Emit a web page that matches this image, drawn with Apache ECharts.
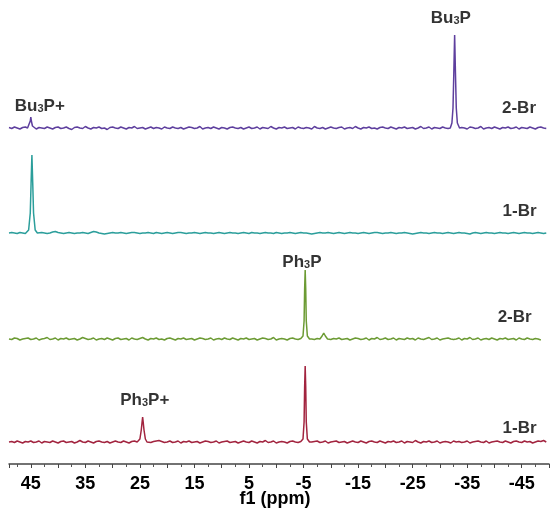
<!DOCTYPE html>
<html>
<head>
<meta charset="utf-8">
<script src="https://cdn.jsdelivr.net/npm/echarts@6/dist/echarts.min.js"></script>
<style>
html,body{margin:0;padding:0;background:#fff;}
#chart{width:551px;height:508px;}
</style>
</head>
<body>
<div id="chart"></div>
<script>
// Baseline noise sampled every 0.5 ppm, starting at 49 ppm going down
const noiseStart = 49;
const noiseStep = 0.5;
const noisePurple = [
 0.5,-0.5,1,0,-1,0.5,1,-0.5,0,1.5,-1,0.5,0,-0.5,1,0,-1,0.5,1,-0.5,
 0,1,-0.5,-1.5,0.5,1,0,-0.5,1.5,0,-1,0.5,0,1,-0.5,0,-1.5,0.5,1,0,
 -0.5,1,0,-1,0.5,0,1.5,-0.5,0,0.5,-1,0,1,-0.5,0.5,0,-1,1,0,-0.5,
 1,0,-0.5,0.5,-1,0,1,0.5,-0.5,0,1.5,-1,0,0.5,-0.5,1,0,-1,0.5,0,
 -1,0.5,1,0,-0.5,0.5,-1,0,1,-0.5,0,1,-1,0.5,0,-0.5,1.5,0,-1,0.5,
 0,1,-0.5,0,0.5,-1,1,0,-0.5,0.5,0,-1,1.5,0,-0.5,0.5,-1,0,1,0,
 -0.5,0.5,1,-1,0,0.5,-0.5,1.5,0,-1,0.5,0,1,-0.5,0,-1,0.5,1,0,-0.5,
 1,0,-1,0.5,0,1,-0.5,0,0.5,-1,0,1.5,-0.5,0,1,-1,0.5,0,-0.5,1,
 0,-0.5,0.5,0,1,-1,0.5,0,-1,1,0.5,-0.5,0,1.5,-1,0,0.5,-0.5,1,0,
 -1,0.5,0,1,-0.5,0,1,-1,0.5,0,-0.5,1,0,-1,0.5,1,0,-0.5
];
const noiseTeal = [
 0,0.5,0,-0.5,0.5,0,-0.5,0,0,0,0,0,0.5,0,-0.5,0,1,1.5,0.5,0,
 -0.5,0,0.5,0,-0.5,0,0,0.5,0,-0.5,0.5,1.5,1,0,-0.5,-1,-0.5,0,0.5,0,
 0,0.5,0,-0.5,0,0.5,0.5,0,-0.5,0,0,0.5,0,-0.5,0.5,0,-0.5,0,0.5,0,
 -0.5,0,0.5,0.5,0,-0.5,0,0,0.5,0,-0.5,0,0.5,0,0,-0.5,0,0.5,0,-0.5,
 0,0.5,0,0,-0.5,0,0.5,0,-0.5,0.5,0,0,-0.5,0,0.5,0,0,-0.5,0.5,0,
 -0.5,0,0,0.5,0,-0.5,0,0.5,0,0,-0.5,-1,-0.5,0,0.5,0,0,0.5,0,-0.5,
 0,0.5,0,-0.5,0,0.5,0,0,-0.5,0,0.5,0,-0.5,0,0.5,0.5,0,-0.5,0,0,
 0.5,0,-0.5,0,0,0.5,0,-0.5,-1,-0.5,0,0.5,0,0,-0.5,0,0.5,0,0,-0.5,
 0,0.5,0,-0.5,0,0.5,0,0,-0.5,-1,0,0.5,0,-0.5,0,0.5,0,0,-0.5,0,
 0.5,0,0,-0.5,0,0.5,0,-0.5,0,0.5,0,0,-0.5,0,0.5,0,-0.5,0
];
const noiseGreen = [
 0,-0.5,1,0.5,-1,0,0.5,1,-0.5,0,1,-1,0,0.5,1.5,-0.5,0,1,-1,0.5,
 0,1,-0.5,0,0.5,-1,0,1.5,0.5,-0.5,0,1,-1,0,0.5,-0.5,1,0,-1,0.5,
 1,-0.5,0,0.5,-1,1,0,-0.5,0.5,1.5,0,-1,0.5,0,1,-0.5,0,-1,0.5,1,
 0,-1,0.5,0,1,-0.5,0,0.5,-1,0,1,0.5,-0.5,0,1,-1,0,0.5,-0.5,1,
 0,-0.5,1,0,-1,0.5,0,1,-0.5,0,0.5,-1,0,1,0.5,-0.5,0,1.5,-1,0,
 0.5,0,-1,0.5,1,0,-0.5,0.5,-1,0,1,0,-0.5,0.5,0,-1,1,0,-0.5,0.5,
 0,1,-0.5,0,0.5,-1,0,1,0.5,-0.5,0,1,-1,0.5,0,1.5,-0.5,0,1,-0.5,
 0,1,-1,0.5,0,-0.5,1,0,0.5,-1,1,0,-0.5,0.5,1.5,-0.5,0,1,-1,0,
 0.5,1,0,-0.5,0,1,-1,0.5,0,1.5,-0.5,0,1,-1,0,0.5,-0.5,1,0,-1,
 0.5,0,1,-0.5,0,0.5,-1,1,0,-0.5,1,0,-0.5,0.5,0,-1
];
const noiseRed = [
 0,0.5,-0.5,1,0,-1,0.5,0,1,-0.5,0,1,-1,0.5,0,-0.5,1,0,-1,0.5,
 1,-0.5,0,0.5,-1,0,1.5,0,-0.5,1,0,-1,0.5,1,0,-0.5,0.5,-1,0,1,
 0,-0.5,1,0,-1,0.5,1,0,0,0,0,0,-0.5,0.5,1,1.5,0.5,-0.5,0,1,
 -0.5,0,1,-1,0.5,0,1,-0.5,0,0.5,-1,0,1,0.5,-0.5,0,1,-1,0,0.5,
 1,-0.5,0,0.5,-1,0,1,0,-0.5,1,0,-1,0.5,0,1.5,-0.5,0,1,-1,0,
 0.5,0,-1,0.5,1,0,-0.5,0.5,0,-1,0,0,0.5,1,-0.5,0,1,-1,0,0.5,
 1,-0.5,0,0.5,-1,0,1,0,-0.5,1,0,-1,0.5,1,0,-0.5,1,0,-1,0.5,
 0,1,-0.5,0,1,-1,0.5,0,-0.5,1.5,0,-1,0.5,0,1,-0.5,0,1,-1,0,
 0.5,0,-1,1,0,0.5,-0.5,0,1,-1,0,0.5,1,0,-0.5,1,-1,0,0.5,1,
 0,-0.5,1,0,-1,0.5,1,0,-0.5,1,0,0.5,-1,0,1,0.5,1.5,0
];

// Peaks: [ppm, height above baseline]
const peaksPurple = [
 [[45.6,0],[45.3,2],[45.1,7],[45.0,11],[44.9,7],[44.7,2],[44.4,0]],
 [[-31.9,0],[-32.2,5],[-32.4,20],[-32.55,55],[-32.7,93],[-32.85,55],[-33.0,20],[-33.2,5],[-33.6,0]]
];
const peaksTeal = [
 [[45.8,0],[45.4,3],[45.1,20],[44.95,50],[44.8,78],[44.65,50],[44.5,20],[44.2,3],[43.8,0]]
];
const peaksGreen = [
 [[-4.6,0],[-4.9,3],[-5.1,18],[-5.2,50],[-5.3,69],[-5.4,50],[-5.5,18],[-5.7,3],[-6.1,0]],
 [[-8.0,0],[-8.4,3],[-8.7,6],[-9.0,3],[-9.4,0]]
];
const peaksRed = [
 [[25.3,0],[25.0,3],[24.75,12],[24.6,20],[24.5,25],[24.4,20],[24.25,12],[24.0,3],[23.7,0]],
 [[-4.6,0],[-4.9,3],[-5.1,20],[-5.2,55],[-5.3,76],[-5.4,55],[-5.5,20],[-5.7,3],[-6.1,0]]
];

// Vertical offsets of each trace (stacking)
const offsets = {purple:336, teal:231, green:125, red:22};

// Annotations: [rich text, ppm, y]
const annotations = [
 ['{n|Bu}{s|3}{n|P}', -32.0, 446],
 ['{n|Bu}{s|3}{n|P+}', 43.35, 358],
 ['{n|2-Br}', -44.5, 356],
 ['{n|1-Br}', -44.6, 253],
 ['{n|Ph}{s|3}{n|P}', -4.7, 202],
 ['{n|2-Br}', -43.7, 147],
 ['{n|Ph}{s|3}{n|P+}', 24.1, 64],
 ['{n|1-Br}', -44.6, 36]
];

const xTickMin = -50, xTickMax = 49, xTickStep = 5;

function build(noise, peaks, offset){
  const pts = [];
  noise.forEach((v,i)=>{
    const p = noiseStart - i*noiseStep;
    const inPeak = peaks.some(pk => p <= pk[0][0] && p >= pk[pk.length-1][0]);
    if(!inPeak) pts.push([p, offset + v]);
  });
  peaks.forEach(pk => pk.forEach(([p,h]) => pts.push([p, offset + h])));
  pts.sort((a,b)=>b[0]-a[0]);
  return pts;
}

function lineSeries(data, color){
  return {
    type:'line', data, showSymbol:false, symbol:'none', animation:false,
    lineStyle:{color, width:1.5}, z:2
  };
}

const chart = echarts.init(document.getElementById('chart'), null, {renderer:'canvas'});
const fontFam = '"Liberation Sans", Arial, Helvetica, sans-serif';
chart.setOption({
  backgroundColor:'#fff',
  animation:false,
  grid:{left:9, right:2, top:0, bottom:44, outerBoundsMode:'none', containLabel:false},
  xAxis:{
    type:'value', inverse:true, min:xTickMin, max:xTickMax, interval:xTickStep,
    splitLine:{show:false},
    axisLine:{show:true, onZero:false, lineStyle:{color:'#444', width:1.5}},
    axisTick:{show:true, length:4, lineStyle:{color:'#444', width:1}},
    minorTick:{show:true, splitNumber:2, length:3, lineStyle:{color:'#555', width:1}},
    axisLabel:{
      show:true, margin:11, color:'#000', fontSize:18, fontWeight:'bold', fontFamily:fontFam,
      showMaxLabel:false, showMinLabel:false,
      formatter:v => (Math.abs(v)%10===5 ? String(v) : '')
    },
    name:'f1 (ppm)', nameLocation:'middle', nameGap:26, nameMoveOverlap:false,
    nameTextStyle:{color:'#000', fontSize:18, fontWeight:'bold', fontFamily:fontFam, padding:[0,8,0,0]}
  },
  yAxis:{type:'value', min:0, max:464, show:false},
  series:[
    lineSeries(build(noisePurple, peaksPurple, offsets.purple), '#5e3f9e'),
    lineSeries(build(noiseTeal, peaksTeal, offsets.teal), '#2b9e9b'),
    lineSeries(build(noiseGreen, peaksGreen, offsets.green), '#6c9b34'),
    lineSeries(build(noiseRed, peaksRed, offsets.red), '#a2243f'),
    {
      type:'scatter', animation:false, symbolSize:1, z:5,
      itemStyle:{color:'rgba(0,0,0,0)'},
      data: annotations.map(a => ({value:[a[1], a[2]], txt:a[0]})),
      label:{
        show:true, position:'inside',
        formatter: p => p.data.txt,
        rich:{
          n:{fontSize:17, fontWeight:'bold', color:'#000', fontFamily:fontFam},
          s:{fontSize:11, fontWeight:'bold', color:'#000', fontFamily:fontFam, verticalAlign:'bottom', padding:[5,0,0,0]}
        }
      }
    }
  ]
});
</script>
</body>
</html>
